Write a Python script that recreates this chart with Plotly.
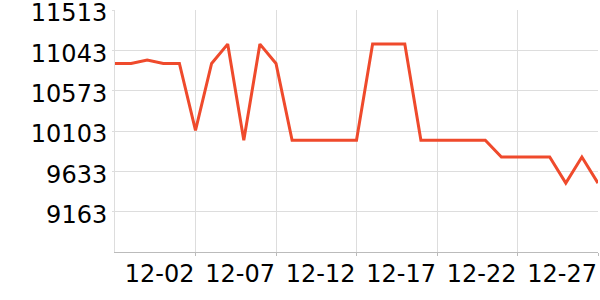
import plotly.graph_objects as go
import pandas as pd

dates = pd.date_range("2023-11-27", "2023-12-27", freq="D")
values = [10890, 10890, 10929, 10890, 10890, 10110, 10890, 11116, 9995, 11116,
          10890, 9995, 9995, 9995, 9995, 9995, 11116, 11116, 11116, 9995,
          9995, 9995, 9995, 9995, 9800, 9800, 9800, 9800, 9496, 9800, 9496]
y_ticks = [9163, 9633, 10103, 10573, 11043, 11513]
y_labels = ["9163", "9633", "10103", "10573", "11043", "11513"]
x_ticks = ["2023-12-02", "2023-12-07", "2023-12-12", "2023-12-17", "2023-12-22", "2023-12-27"]
x_labels = ["12-02", "12-07", "12-12", "12-17", "12-22", "12-27"]

fig = go.Figure()
fig.add_trace(go.Scatter(x=dates, y=values, mode="lines",
                         line=dict(color="#ef4a2c", width=3), hoverinfo="skip"))
fig.update_layout(
    width=600, height=300,
    margin=dict(l=115, r=2, t=10, b=48),
    paper_bgcolor="white", plot_bgcolor="white",
    showlegend=False,
    font=dict(family="DejaVu Sans", size=24, color="black"),
)
fig.update_xaxes(
    range=["2023-11-27", "2023-12-27"],
    tickvals=x_ticks, ticktext=x_labels,
    ticklabelposition="outside left",
    automargin=False,
    showgrid=True, gridcolor="#dddddd", gridwidth=1,
    showline=True, linecolor="#bbbbbb", linewidth=1,
    ticks="outside", ticklen=3, tickcolor="#bbbbbb",
    zeroline=False,
)
fig.update_yaxes(
    range=[8693, 11513.5],
    tickvals=y_ticks, ticktext=y_labels,
    ticklabeloverflow="allow",
    ticklabelshift=3,
    automargin=False,
    showgrid=True, gridcolor="#dddddd", gridwidth=1,
    showline=True, linecolor="#dddddd", linewidth=1,
    ticks="outside", ticklen=2, tickcolor="#dddddd",
    zeroline=False,
)
fig.write_html("out.html")
